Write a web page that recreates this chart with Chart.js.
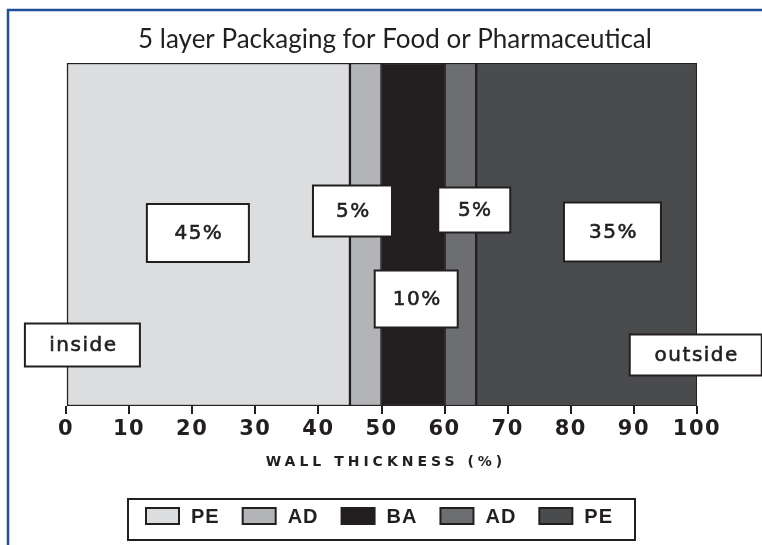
<!DOCTYPE html>
<html>
<head>
<meta charset="utf-8">
<script src="https://cdn.jsdelivr.net/npm/chart.js@4"></script>
<style>
  html, body { margin: 0; padding: 0; background: #fff; }
  #wrap { width: 762px; height: 545px; position: relative; }
</style>
</head>
<body>
<div id="wrap"><canvas id="myChart" width="762" height="545"></canvas></div>
<script>
// data
const layers = ["PE", "AD", "BA", "AD", "PE"];
const thickness = [45, 5, 10, 5, 35];
const layerColors = ["#dcdddf", "#b3b4b7", "#231f20", "#6d6e71", "#4a4b4d"];
const percentLabels = ["45%", "5%", "10%", "5%", "35%"];
const sideLabels = ["inside", "outside"];
const wall = ["wall"];
const titleText = "5 layer Packaging for Food or Pharmaceutical";
const axisTitle = "WALL THICKNESS (%)";

const ink = "#231f20";

// label boxes: x in axis units, y/size in px
const boxes = [
  { text: percentLabels[0], x: 20.9, y: 233, w: 102, h: 58 },
  { text: percentLabels[1], x: 45.4, y: 211, w: 79, h: 51 },
  { text: percentLabels[2], x: 55.5, y: 299, w: 83, h: 57 },
  { text: percentLabels[3], x: 64.7, y: 210, w: 72, h: 45 },
  { text: percentLabels[4], x: 86.6, y: 232, w: 97, h: 59 },
  { text: sideLabels[0], x: 2.6, y: 345, w: 115, h: 43 },
  { text: sideLabels[1], x: 99.8, y: 355, w: 132, h: 41 },
];

const decor = {
  id: "decor",
  beforeDraw(chart) {
    chart.ctx.letterSpacing = "1.5px";
  },
  afterDraw(chart) {
    const ctx = chart.ctx;
    const xs = chart.scales.x;
    ctx.save();
    ctx.letterSpacing = "0px";

    // blue frame
    ctx.strokeStyle = "#1f4f99";
    ctx.lineWidth = 2.5;
    ctx.beginPath();
    ctx.moveTo(8, 546);
    ctx.lineTo(8, 10);
    ctx.lineTo(763, 10);
    ctx.stroke();

    // title
    ctx.fillStyle = ink;
    ctx.font = "26px Lato";
    ctx.textAlign = "center";
    ctx.textBaseline = "middle";
    ctx.fillText(titleText, 395, 40);

    // axis title
    ctx.font = "bold 14px 'DejaVu Sans'";
    ctx.letterSpacing = "4px";
    ctx.fillText(axisTitle, 386, 462);

    // label boxes
    ctx.font = "20px 'DejaVu Sans'";
    ctx.letterSpacing = "1.5px";
    boxes.forEach((b) => {
      const cx = xs.getPixelForValue(b.x);
      ctx.fillStyle = "#fff";
      ctx.fillRect(cx - b.w / 2, b.y - b.h / 2, b.w, b.h);
      ctx.strokeStyle = ink;
      ctx.lineWidth = 2;
      ctx.strokeRect(cx - b.w / 2, b.y - b.h / 2, b.w, b.h);
      ctx.fillStyle = ink;
      ctx.fillText(b.text, cx + 1, b.y + 1);
      ctx.lineWidth = 0.6;
      ctx.strokeText(b.text, cx + 1, b.y + 1);
    });

    // legend
    ctx.letterSpacing = "1px";
    ctx.font = "bold 20px 'Liberation Sans'";
    ctx.strokeStyle = ink;
    ctx.lineWidth = 2;
    ctx.strokeRect(128, 499, 507, 41);
    ctx.textAlign = "left";
    let lx = 146;
    layers.forEach((name, i) => {
      ctx.fillStyle = layerColors[i];
      ctx.fillRect(lx, 508, 33, 16);
      ctx.strokeRect(lx, 508, 33, 16);
      ctx.fillStyle = ink;
      ctx.fillText(name, lx + 45, 517);
      lx += 45 + ctx.measureText(name).width + 23;
    });
    ctx.restore();
  },
};

new Chart(document.getElementById("myChart"), {
  type: "bar",
  data: {
    labels: wall,
    datasets: layers.map((name, i) => ({
      label: name,
      data: [thickness[i]],
      backgroundColor: layerColors[i],
      borderColor: ink,
      borderWidth: 1.5,
      borderSkipped: false,
      barPercentage: 1,
      categoryPercentage: 1,
    })),
  },
  options: {
    indexAxis: "y",
    responsive: false,
    animation: false,
    layout: { padding: { left: 66, right: 65, top: 63, bottom: 75 } },
    plugins: {
      legend: { display: false },
      title: { display: false },
      tooltip: { enabled: false },
    },
    scales: {
      x: {
        stacked: true,
        min: 0,
        max: 100,
        afterFit: (scale) => {
          scale.height = 64;
        },
        ticks: {
          stepSize: 10,
          padding: 3,
          color: ink,
          font: { family: "DejaVu Sans", weight: "bold", size: 21 },
        },
        grid: {
          drawOnChartArea: false,
          drawTicks: true,
          tickLength: 8,
          color: ink,
          lineWidth: 2,
        },
        border: { display: false },
      },
      y: { stacked: true, display: false },
    },
  },
  plugins: [decor],
});
</script>
</body>
</html>
